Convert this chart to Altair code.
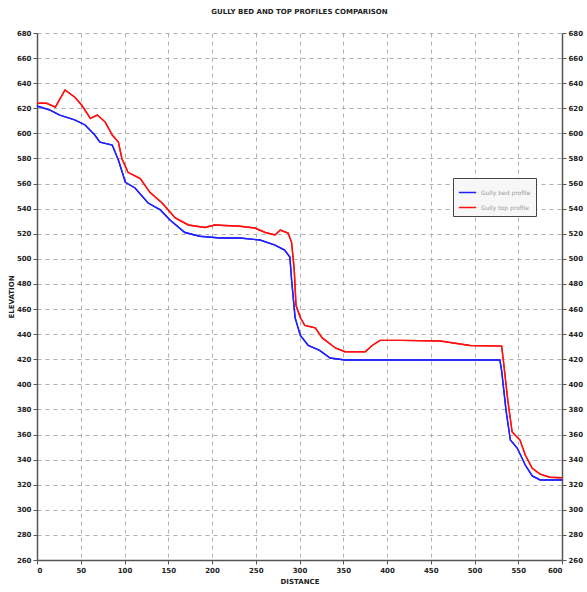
import altair as alt
import pandas as pd

top_dist = [0, 11, 21, 32, 43, 51, 61, 69, 78, 86, 93, 97, 104, 118, 129, 143, 158, 173, 192, 203, 232, 249, 261, 272, 278, 287, 291, 294, 296, 301, 306, 318, 326, 341, 352, 375, 383, 392, 415, 461, 495, 531, 533, 538, 543, 552, 558, 566, 575, 586, 600]
top_elev = [624, 624, 621, 634.6, 629, 622.6, 612, 614.6, 609, 598.7, 593, 580, 569, 564, 553, 544.5, 532.6, 527, 525, 527, 526, 524.6, 521, 519, 523, 520.6, 513, 491, 463, 453, 447, 445, 437, 429, 426, 426, 431, 435, 435, 434.5, 431, 430.5, 419, 387.5, 362, 355.6, 343.7, 333, 328.5, 326, 325.5]

bed_dist = [0, 15, 26, 43, 55, 66, 72, 86, 93, 101, 112, 127, 141, 152, 169, 186, 209, 232, 255, 272, 283, 289, 291, 295, 301, 310, 323, 335, 352, 415, 529, 531, 536, 541, 549, 558, 566, 575, 600]
bed_elev = [621.8, 618.6, 614.6, 610.7, 606.7, 598.7, 593, 590.7, 578.8, 561, 556.5, 544.5, 539, 531, 521, 518, 516.6, 516.6, 515, 511, 507, 501.5, 483, 453, 439, 431, 427, 421, 419.4, 419.4, 419.4, 411, 379.5, 355.6, 349, 335.7, 327, 323.8, 323.8]

series_names = ["Gully bed profile", "Gully top profile"]
series_colors = ["#1f1fff", "#ff1010"]
x_ticks = list(range(0, 601, 50))
y_ticks = list(range(260, 681, 20))

rows = []
for d, e in zip(bed_dist, bed_elev):
    rows.append({"distance": d, "elevation": e, "series": series_names[0], "order": len(rows)})
for d, e in zip(top_dist, top_elev):
    rows.append({"distance": d, "elevation": e, "series": series_names[1], "order": len(rows)})
df = pd.DataFrame(rows)

font = "DejaVu Sans"

x_enc = alt.X("distance:Q",
              scale=alt.Scale(domain=[0, 600], nice=False),
              axis=alt.Axis(values=x_ticks, title="DISTANCE", titleFontSize=7,
                            titleFontWeight="bold", labelFontSize=7, labelFontWeight="bold",
                            grid=True, gridDash=[4, 4], gridColor="#b0b0b0",
                            domainColor="#555555", domainWidth=1.5, tickColor="#555555",
                            tickSize=4, labelColor="#222222", titleColor="#222222",
                            titlePadding=4, labelPadding=2))

y_scale = alt.Scale(domain=[260, 680], nice=False)

left = alt.Chart(df).mark_line(strokeWidth=1.4).encode(
    x=x_enc,
    y=alt.Y("elevation:Q", scale=y_scale,
            axis=alt.Axis(values=y_ticks, title="ELEVATION", titleFontSize=7,
                          titleFontWeight="bold", labelFontSize=7, labelFontWeight="bold",
                          grid=True, gridDash=[4, 4], gridColor="#b0b0b0",
                          domainColor="#555555", domainWidth=1.5, tickColor="#555555",
                          tickSize=4, labelColor="#222222", titleColor="#222222",
                          titlePadding=2, labelPadding=2)),
    color=alt.Color("series:N",
                    scale=alt.Scale(domain=series_names, range=series_colors),
                    legend=alt.Legend(title=None, orient="none", legendX=416, legendY=145,
                                      fillColor="#f7f7f7", strokeColor="#444444",
                                      padding=5, symbolType="stroke", symbolSize=300,
                                      symbolStrokeWidth=1.5, labelFontSize=6,
                                      labelColor="#999999", rowPadding=2)),
    order="order:Q",
)

right = alt.Chart(df).mark_line(strokeWidth=1.4).encode(
    x=x_enc,
    y=alt.Y("elevation:Q", scale=y_scale,
            axis=alt.Axis(values=y_ticks, orient="right", title=None, labelFontSize=7,
                          labelFontWeight="bold", grid=False,
                          domainColor="#555555", domainWidth=1.5, tickColor="#555555",
                          tickSize=4, labelColor="#222222", labelPadding=2)),
    color=alt.Color("series:N",
                    scale=alt.Scale(domain=series_names, range=series_colors),
                    legend=None),
    order="order:Q",
)

chart = alt.layer(left, right).resolve_scale(y="independent").properties(
    width=525, height=527,
    title=alt.TitleParams("GULLY BED AND TOP PROFILES COMPARISON", fontSize=7,
                          fontWeight="bold", font=font, color="#222222", offset=14),
    autosize=alt.AutoSizeParams(type="none"),
    padding={"left": 37, "top": 33, "right": 25, "bottom": 32},
).configure(font=font).configure_view(stroke=None)

chart.save("out.html", embed_options={"renderer": "svg", "actions": False})
